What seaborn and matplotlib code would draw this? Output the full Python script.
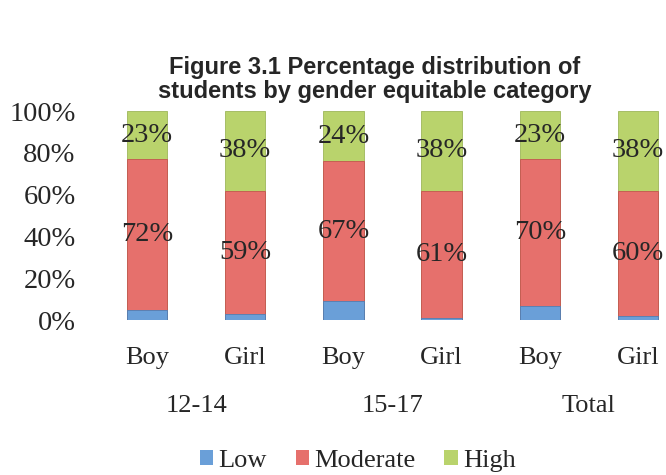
import pandas as pd
import numpy as np
import matplotlib
matplotlib.use('Agg')
import matplotlib.pyplot as plt
import seaborn as sns
from matplotlib.patches import Patch

# ── Data (percent of students) ────────────────────────────────────────────────
groups = ['12-14', '12-14', '15-17', '15-17', 'Total', 'Total']
genders = ['Boy', 'Girl', 'Boy', 'Girl', 'Boy', 'Girl']
low = [5, 3, 9, 1, 7, 2]
moderate = [72, 59, 67, 61, 70, 60]
high = [23, 38, 24, 38, 23, 38]
group_names = ['12-14', '15-17', 'Total']

COLORS = {'Low': '#6A9FD8', 'Moderate': '#E6706C', 'High': '#B9D36C'}
FS = 19      # text labels
FN = 20.5    # numeric labels

df = pd.DataFrame({
    'key': [f'{g} {s}' for g, s in zip(groups, genders)],
    'gender': genders,
    'Low': low,
    'Moderate': moderate,
    'High': high,
})
df['cum_mod'] = df['Low'] + df['Moderate']
df['cum_high'] = df['cum_mod'] + df['High']

sns.set_style('white')
plt.rcParams['font.family'] = ['Liberation Serif', 'DejaVu Serif']

fig = plt.figure(figsize=(6.66, 4.75), dpi=100)
ax = fig.add_axes([0.147, 0.326, 0.853, 0.44])

# stacked bars: draw totals first, then lower layers on top
width = 0.41
sns.barplot(data=df, x='key', y='cum_high', color=COLORS['High'], width=width,
            saturation=1, ax=ax, edgecolor='#9DB65A', linewidth=0.6)
sns.barplot(data=df, x='key', y='cum_mod', color=COLORS['Moderate'], width=width,
            saturation=1, ax=ax, edgecolor='#C4554F', linewidth=0.6)
sns.barplot(data=df, x='key', y='Low', color=COLORS['Low'], width=width,
            saturation=1, ax=ax, edgecolor='#4F7FB5', linewidth=0.6)

# value labels centred in each segment
for i, row in df.iterrows():
    ax.text(i, row['Low'] + row['Moderate'] / 2, f"{row['Moderate']}%",
            ha='center', va='center', fontsize=FN)
    ax.text(i, row['cum_mod'] + row['High'] / 2, f"{row['High']}%",
            ha='center', va='center', fontsize=FN)

ax.set_ylim(0, 100)
ax.set_xlim(-0.5, 5.285)
ax.set_yticks(np.arange(0, 101, 20))
ax.set_yticklabels([f'{v}%' for v in range(0, 101, 20)], fontsize=FN)
ax.set_xticks(range(len(genders)))
ax.set_xticklabels(genders, fontsize=FS)
ax.tick_params(axis='x', length=0, pad=19)
ax.tick_params(axis='y', length=0, pad=16)
ax.set_xlabel('')
ax.set_ylabel('')
for s in ax.spines.values():
    s.set_visible(False)

# group labels under gender labels
for j, name in enumerate(group_names):
    ax.text(2 * j + 0.5, -41, name, ha='center', va='center', fontsize=FS,
            clip_on=False)

fig.text(0.562, 0.833, 'Figure 3.1 Percentage distribution of\nstudents by gender equitable category',
         ha='center', va='center', fontsize=17, fontweight='bold',
         family='Liberation Sans', linespacing=1.08)

handles = [Patch(facecolor=COLORS[k], edgecolor='none', label=k)
           for k in ['Low', 'Moderate', 'High']]
fig.legend(handles=handles, loc='center', bbox_to_anchor=(0.537, 0.03), ncol=3,
           frameon=False, fontsize=19, handlelength=0.5, handleheight=0.5,
           handletextpad=0.2, columnspacing=1.1, borderpad=0)

fig.savefig('out.png', dpi=100)
